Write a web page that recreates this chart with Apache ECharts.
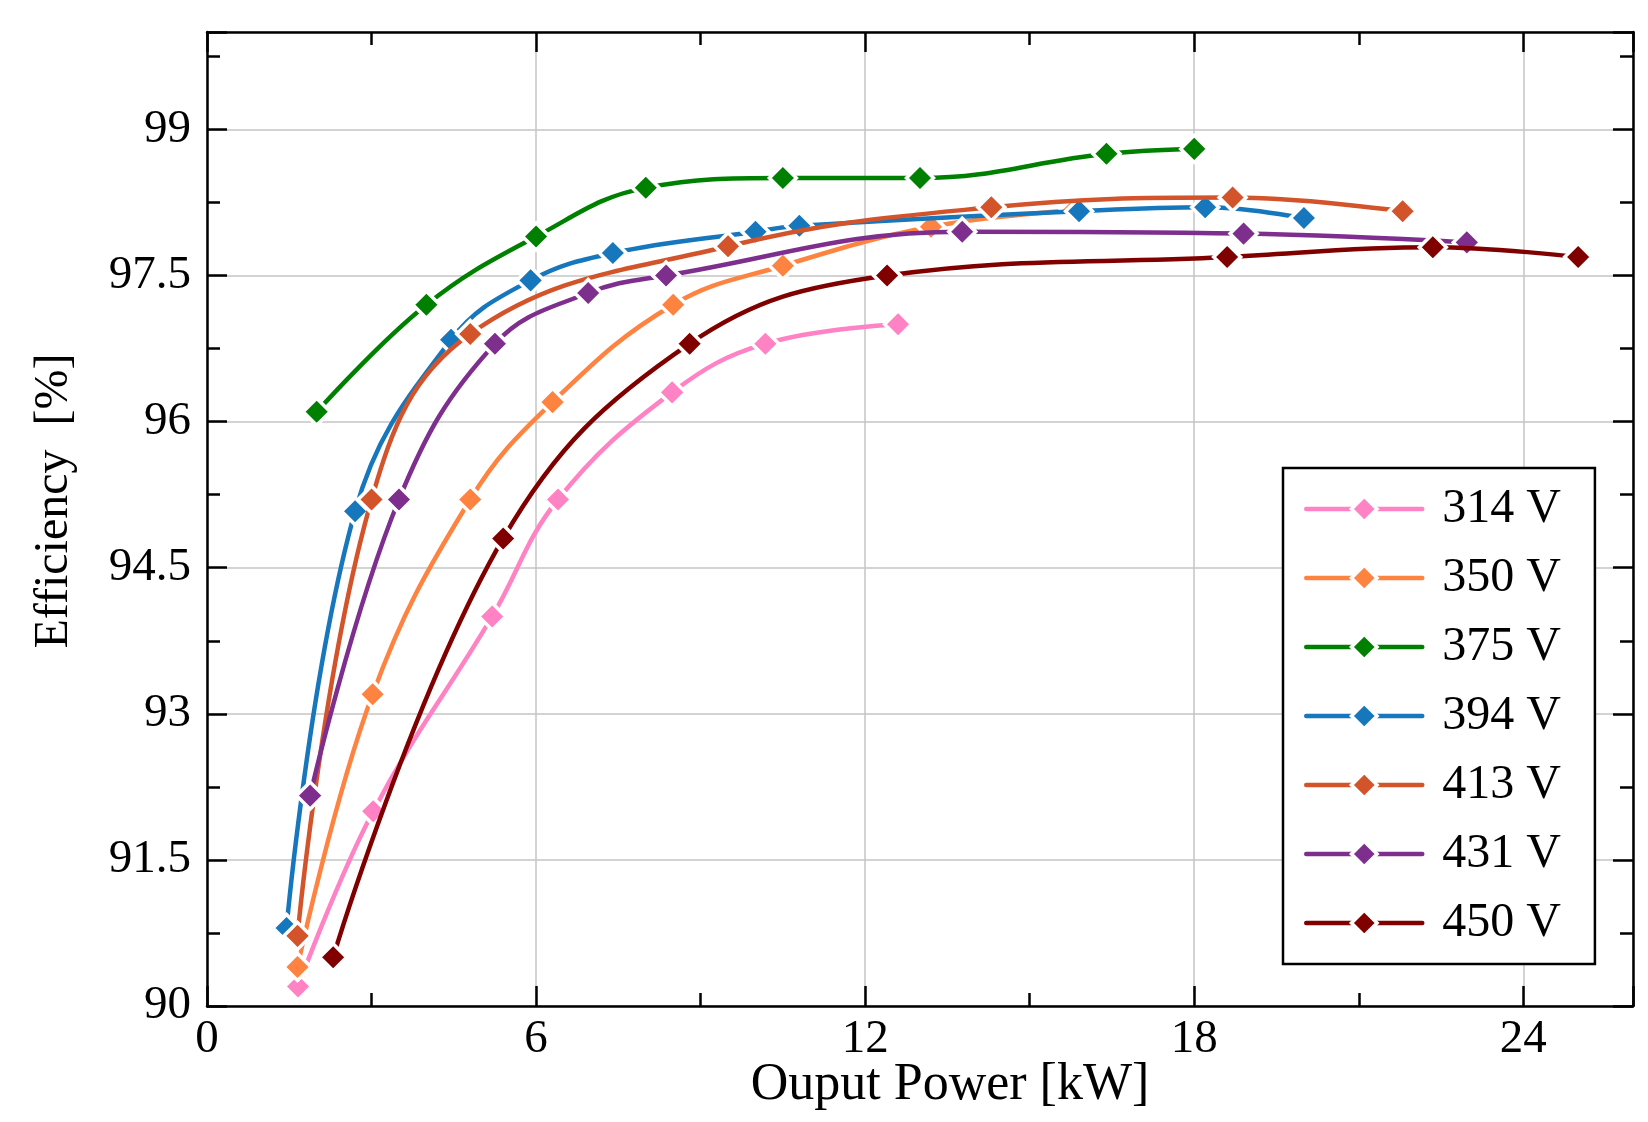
<!DOCTYPE html>
<html><head><meta charset="utf-8">
<script src="https://cdn.jsdelivr.net/npm/echarts@6/dist/echarts.min.js"></script>
<style>html,body{margin:0;padding:0;background:#fff}#c{width:1648px;height:1122px}</style>
</head><body><div id="c"></div>
<script>
// ---- data ----
const seriesNames = ['314 V', '350 V', '375 V', '394 V', '413 V', '431 V', '450 V'];
const x314 = [1.66, 3.03, 5.2, 6.4, 8.48, 10.18, 12.6];
const y314 = [90.2, 92.0, 94.0, 95.2, 96.3, 96.8, 97.0];
const x350 = [1.65, 3.02, 4.8, 6.3, 8.5, 10.5, 13.2, 15.8];
const y350 = [90.4, 93.2, 95.2, 96.2, 97.2, 97.6, 98.0, 98.17];
const x375 = [2.0, 4.0, 6.0, 8.0, 10.5, 13.0, 16.4, 18.0];
const y375 = [96.1, 97.2, 97.9, 98.4, 98.5, 98.5, 98.75, 98.8];
const x394 = [1.45, 2.7, 4.45, 5.9, 7.4, 10.0, 10.8, 15.9, 18.2, 20.0];
const y394 = [90.8, 95.08, 96.84, 97.45, 97.73, 97.95, 98.01, 98.16, 98.2, 98.09];
const x413 = [1.65, 3.0, 4.8, 9.5, 14.3, 18.7, 21.8];
const y413 = [90.72, 95.2, 96.9, 97.8, 98.2, 98.3, 98.16];
const x431 = [1.88, 3.5, 5.25, 6.95, 8.37, 13.77, 18.9, 22.97];
const y431 = [92.16, 95.2, 96.8, 97.32, 97.5, 97.95, 97.93, 97.84];
const x450 = [2.3, 5.4, 8.8, 12.4, 18.6, 22.35, 25.0];
const y450 = [90.5, 94.8, 96.8, 97.5, 97.69, 97.79, 97.69];
const xTickLabels = ['0', '6', '12', '18', '24'];
const yTickLabels = ['90', '91.5', '93', '94.5', '96', '97.5', '99'];
const xTitle = 'Ouput Power [kW]';
const yTitle = 'Efficiency  [%]';

// ---- styling ----
const colors = ['#ff82c4', '#ff8340', '#008000', '#1777bd', '#d3532a', '#7e2f8e', '#800000'];
const FONT = "'Liberation Serif', 'Times New Roman', serif";
const xs = [x314, x350, x375, x394, x413, x431, x450];
const ys = [y314, y350, y375, y394, y413, y431, y450];

const series = seriesNames.map((name, i) => ({
  name: name,
  type: 'line',
  xAxisIndex: 0, yAxisIndex: 0,
  data: xs[i].map((x, j) => [x, ys[i][j]]),
  smooth: 0.4,
  symbol: 'diamond',
  symbolSize: 27,
  lineStyle: { color: colors[i], width: 4.5 },
  itemStyle: { color: colors[i], borderColor: '#ffffff', borderWidth: 3.5 },
  emphasis: { disabled: true },
  z: 2 + i
}));

const tickStyle = { color: '#000', width: 2.5 };
function mkX(pos, main) {
  return {
    type: 'value', position: pos, min: 0, max: 26, interval: 6,
    axisLine: { show: true, onZero: false, lineStyle: { color: '#000', width: 2.5 } },
    axisTick: { show: true, inside: true, length: 20, lineStyle: tickStyle },
    minorTick: { show: true, splitNumber: 2, length: 13, lineStyle: tickStyle },
    axisLabel: main ? {
      show: true, margin: 10, fontFamily: FONT, fontSize: 47, color: '#000',
      showMaxLabel: false,
      formatter: v => { const k = Math.round(v / 6); return (Math.abs(v - k * 6) < 1e-6 && xTickLabels[k] !== undefined) ? xTickLabels[k] : ''; }
    } : { show: false },
    splitLine: { show: main, lineStyle: { color: '#c4c4c4', width: 1.5 } },
    minorSplitLine: { show: false }
  };
}
function mkY(pos, main) {
  return {
    type: 'value', position: pos, min: 90, max: 100, interval: 1.5,
    axisLine: { show: true, onZero: false, lineStyle: { color: '#000', width: 2.5 } },
    axisTick: { show: true, inside: true, length: 20, lineStyle: tickStyle },
    minorTick: { show: true, splitNumber: 2, length: 13, lineStyle: tickStyle },
    axisLabel: main ? {
      show: true, margin: 16, fontFamily: FONT, fontSize: 47, color: '#000',
      showMaxLabel: false,
      formatter: v => { const k = Math.round((v - 90) / 1.5); return (Math.abs(v - 90 - k * 1.5) < 1e-6 && yTickLabels[k] !== undefined) ? yTickLabels[k] : ''; }
    } : { show: false },
    splitLine: { show: main, lineStyle: { color: '#c4c4c4', width: 1.5 } },
    minorSplitLine: { show: false }
  };
}

const chart = echarts.init(document.getElementById('c'), null, { renderer: 'canvas' });
chart.setOption({
  animation: false,
  backgroundColor: '#ffffff',
  grid: { left: 207, right: 15, top: 32, bottom: 116, containLabel: false },
  xAxis: [mkX('bottom', true), mkX('top', false)],
  yAxis: [mkY('left', true), mkY('right', false)],
  legend: {
    orient: 'vertical',
    left: 1283, top: 468,
    padding: [17, 34, 17, 21],
    backgroundColor: '#ffffff',
    borderColor: '#000000', borderWidth: 2.5,
    itemWidth: 116, itemHeight: 32, itemGap: 21,
    lineStyle: { width: 4.5, cap: 'round' },
    itemStyle: { borderWidth: 3.5, borderColor: '#ffffff' },
    textStyle: { fontFamily: FONT, fontSize: 48, lineHeight: 48, color: '#000', padding: [0, 0, 0, 15] },
    data: seriesNames,
    selectedMode: false
  },
  graphic: [
    { type: 'text', x: 54, y: 501, rotation: Math.PI / 2,
      style: { text: yTitle, font: "48px 'Liberation Serif', 'Times New Roman', serif", fill: '#000', textAlign: 'center', textVerticalAlign: 'middle' } },
    { type: 'text', x: 950, y: 1085,
      style: { text: xTitle, font: "52px 'Liberation Serif', 'Times New Roman', serif", fill: '#000', textAlign: 'center', textVerticalAlign: 'middle' } }
  ],
  series: series
});
</script>
</body></html>
